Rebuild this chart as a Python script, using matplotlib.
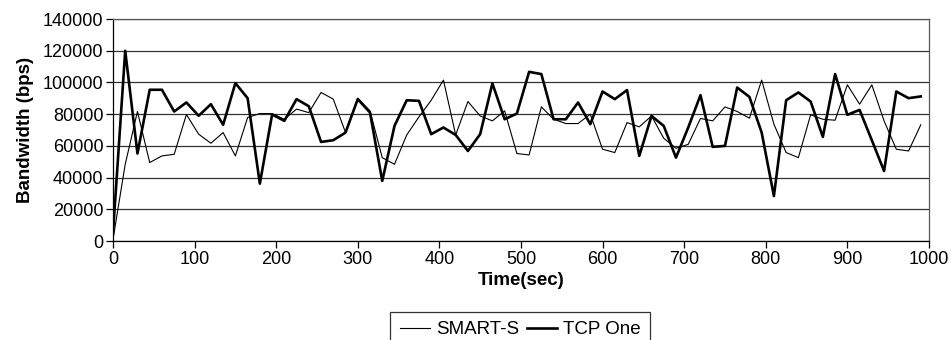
import numpy as np
import matplotlib
matplotlib.use("Agg")
import matplotlib.pyplot as plt

# sample times (sec), one sample every 15 s
time_sec = np.arange(0, 991, 15)

# bandwidth readings (bps)
smart_s = [1000, 48400, 81700, 49500, 53700, 54700, 79800, 67400, 61700, 68400,
           53700, 77900, 80400, 80400, 76800, 83200, 81000, 93700, 89500, 68400,
           90100, 82100, 52600, 48400, 66900, 78300, 88800, 101500, 66900, 88000,
           78900, 75800, 82100, 55200, 54300, 84600, 76800, 74100, 74100, 80000,
           57900, 55800, 74700, 72000, 78900, 64800, 58500, 61000, 77300, 75800,
           84600, 81700, 77500, 101500, 73700, 55800, 52600, 79600, 76800, 76200,
           98500, 86300, 98500, 75800, 57900, 56800, 73300]

tcp_one = [5000, 120000, 55200, 95400, 95400, 81700, 87400, 79000, 86300, 73300,
           99600, 90100, 36200, 79800, 75800, 89500, 85000, 62500, 63600, 68400,
           89500, 81000, 37900, 72600, 88800, 88400, 67400, 71600, 66900, 56800,
           67400, 99400, 76800, 80400, 106700, 105300, 76800, 76800, 87400, 73700,
           94300, 89500, 95200, 53700, 78900, 72600, 52600, 71600, 92000, 59400,
           60000, 96800, 90900, 68400, 28400, 88800, 93700, 88000, 65700, 105300,
           79600, 82700, 63600, 44200, 94300, 90100, 91200]

plt.rcParams['font.family'] = ['Liberation Sans', 'DejaVu Sans']

fig = plt.figure(figsize=(9.51, 3.40), dpi=100)
ax = fig.add_axes([0.1188, 0.291, 0.858, 0.653])

ax.plot(time_sec, smart_s, color="black", lw=0.8, label="SMART-S")
ax.plot(time_sec, tcp_one, color="black", lw=1.9, label="TCP One")

ax.set_xlim(0, 1000)
ax.set_ylim(0, 140000)
ax.set_xticks(np.arange(0, 1001, 100))
ax.set_yticks(np.arange(0, 140001, 20000))
ax.yaxis.grid(True, color="#333333", lw=0.9)
ax.set_axisbelow(True)

ax.tick_params(axis="both", direction="out", length=5, width=0.9,
               labelsize=13, colors="black", pad=2)
for sp in ax.spines.values():
    sp.set_color("black")
    sp.set_linewidth(0.9)
ax.spines["top"].set_color("#555555")
ax.spines["right"].set_color("#555555")

ax.set_xlabel("Time(sec)", fontsize=13.5, fontweight="bold", labelpad=3)
ax.set_ylabel("Bandwidth (bps)", fontsize=13.5, fontweight="bold", labelpad=6)

# legend box runs off the bottom edge, as in the original
leg = fig.legend(loc="upper center", bbox_to_anchor=(0.547, 0.0825), ncol=2,
                 fontsize=13.5, frameon=True, fancybox=False, edgecolor="black",
                 handlelength=1.6, handletextpad=0.35, columnspacing=0.4,
                 borderpad=0.5, borderaxespad=0)
leg.get_frame().set_linewidth(0.9)

fig.savefig("out.png", dpi=100)
